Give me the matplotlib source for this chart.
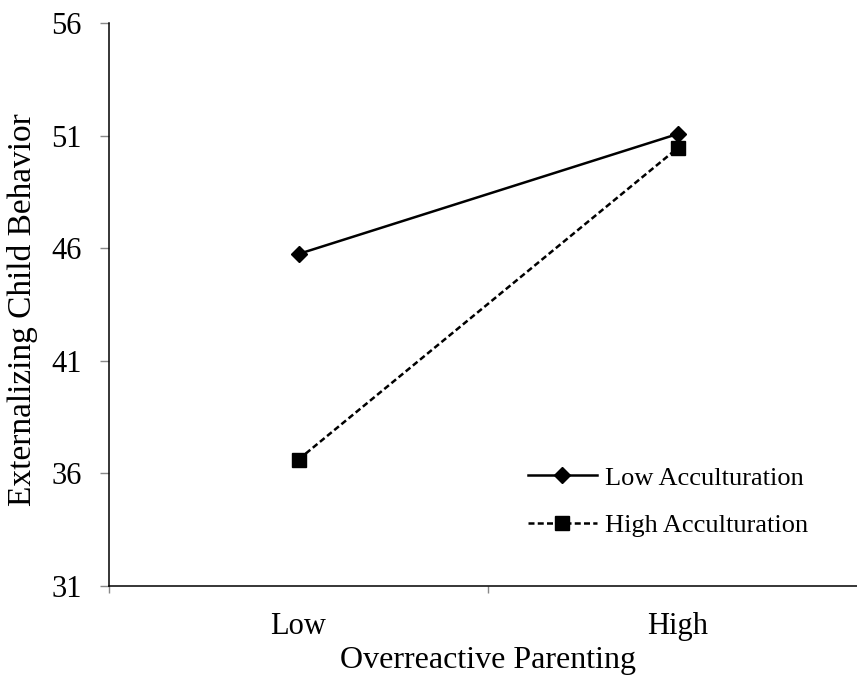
import matplotlib
matplotlib.use("Agg")
import matplotlib.pyplot as plt
from matplotlib.ticker import FixedLocator

categories = ["Low", "High"]
series_names = ["Low Acculturation", "High Acculturation"]
low_accult = [45.75, 51.08]
high_accult = [36.62, 50.45]
y_ticks = [31, 36, 41, 46, 51, 56]

plt.rcParams['font.family'] = ['Liberation Serif', 'DejaVu Serif']

fig = plt.figure(figsize=(8.57, 6.79), dpi=100)
ax = fig.add_axes([109/857, 93/679, 758/857, (586-23.3)/679])

x = list(range(len(categories)))
ax.plot(x, low_accult, color='black', lw=1.8, ls='-', marker='D', markersize=8,
        label=series_names[0])
ax.plot(x, high_accult, color='black', lw=1.8, ls=(0, (2.4, 1.3)), marker='s',
        markersize=10.5, label=series_names[1])

ax.set_xlim(-0.5, 1.5)
ax.set_ylim(31, 56)
ax.set_yticks(y_ticks)
ax.set_yticklabels([str(t) for t in y_ticks], fontsize=22)
ax.set_xticks(x)
ax.set_xticklabels(categories, fontsize=22)
ax.xaxis.set_minor_locator(FixedLocator([-0.5, 0.5, 1.5]))
ax.tick_params(axis='x', which='major', length=0, pad=19)
ax.tick_params(axis='x', which='minor', length=5, color='#888888', width=1)
ax.tick_params(axis='y', which='major', length=6.5, color='#888888', width=1, pad=13)

for s in ['top', 'right']:
    ax.spines[s].set_visible(False)
for s in ['left', 'bottom']:
    ax.spines[s].set_linewidth(1.1)
    ax.spines[s].set_color('black')

ax.set_xlabel("Overreactive Parenting", fontsize=23, labelpad=3)
ax.set_ylabel("Externalizing Child Behavior", fontsize=24)
ax.yaxis.set_label_coords(-71/758, (586-310)/(586-23.3))

leg = ax.legend(loc='center left', bbox_to_anchor=((528-109)/758, (586-501.5)/(586-23.3)),
                frameon=False, fontsize=19, handlelength=2.6, handletextpad=0.3,
                labelspacing=0.9, borderpad=0, borderaxespad=0)

fig.savefig("out.png", dpi=100)
